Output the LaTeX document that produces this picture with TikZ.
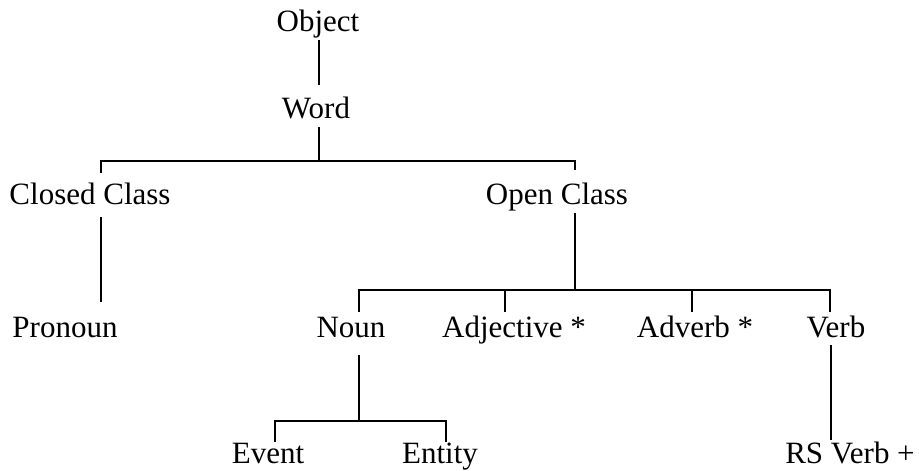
\documentclass[tikz,border=0pt]{standalone}
\usepackage{fontspec}
\setmainfont{Liberation Serif}
\begin{document}
\begin{tikzpicture}[x=1pt,y=-1pt,
  lbl/.style={anchor=base,inner sep=0pt,text height=21pt,text depth=7pt,font=\fontsize{31}{36}\selectfont},
  conn/.style={line width=1.6pt}]
\useasboundingbox (0,0) rectangle (919,471);
% nodes
\node[lbl] (obj)  at (318,31)  {Object};
\node[lbl] (word) at (316,118) {Word};
\node[lbl] (cc)   at (90,204)  {Closed Class};
\node[lbl] (oc)   at (557,204) {Open Class};
\node[lbl] (pron) at (65,337)  {Pronoun};
\node[lbl] (noun) at (351,337) {Noun};
\node[lbl] (adj)  at (514,337) {Adjective *};
\node[lbl] (adv)  at (695,337) {Adverb *};
\node[lbl] (verb) at (836,337) {Verb};
\node[lbl] (evt)  at (268,463) {Event};
\node[lbl] (ent)  at (440,463) {Entity};
\node[lbl] (rsv)  at (850,463) {RS Verb +};
% junctions
\coordinate (j1) at (319,161);
\coordinate (j1l) at (101,161);
\coordinate (j1r) at (575,161);
\coordinate (j2) at (575,290);
\coordinate (j2l) at (359,290);
\coordinate (j2a) at (505,290);
\coordinate (j2b) at (692,290);
\coordinate (j2r) at (830,290);
\coordinate (j3) at (359,421);
\coordinate (j3l) at (275,421);
\coordinate (j3r) at (446,421);
\coordinate (vx) at (831,0);
% connectors
\draw[conn] ([yshift=-2pt]obj.south -| j1) -- ([yshift=12pt]word.north -| j1);
\draw[conn] ([yshift=-2pt]word.south -| j1) -- (j1);
\draw[conn] ([yshift=10pt]cc.north -| j1l) -- (j1l) -- (j1r) -- ([yshift=13pt]oc.north -| j1r);
\draw[conn] ([yshift=-6pt]cc.south -| j1l) -- ([yshift=14pt]pron.north -| j1l);
\draw[conn] ([yshift=-2pt]oc.south -| j2) -- (j2);
\draw[conn] ([yshift=4pt]noun.north -| j2l) -- (j2l) -- (j2r) -- ([yshift=4pt]verb.north -| j2r);
\draw[conn] (j2a) -- ([yshift=4pt]adj.north -| j2a);
\draw[conn] (j2b) -- ([yshift=4pt]adv.north -| j2b);
\draw[conn] ([yshift=-11pt]noun.south -| j3) -- (j3);
\draw[conn] (evt.north -| j3l) -- (j3l) -- (j3r) -- (ent.north -| j3r);
\draw[conn] ([yshift=-1pt]verb.south -| vx) -- ([yshift=2pt]rsv.north -| vx);
\end{tikzpicture}
\end{document}
